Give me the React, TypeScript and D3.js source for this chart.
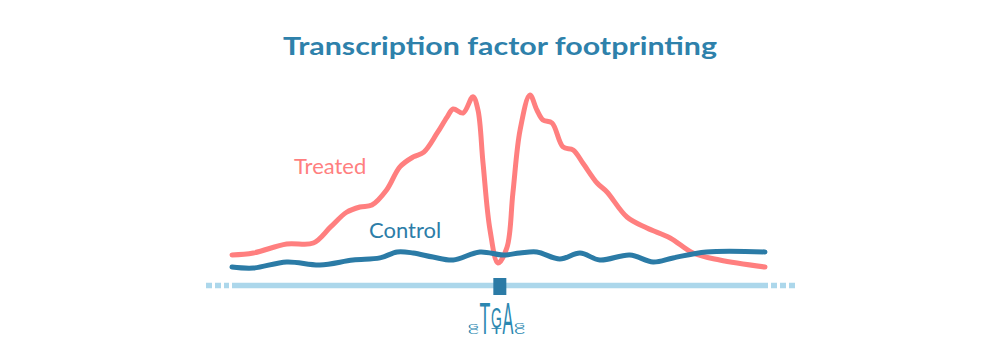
import React from 'react';
import * as d3 from 'd3';

// positions along the region (arbitrary units), signal in arbitrary units
const treatedPos = [0, 8, 20.5, 30.5, 37, 43, 48, 52.5, 58, 63, 68, 72, 77, 80.7, 83, 86.7, 90.4, 92.3, 94.2, 96.8, 99.8, 103.2, 105.4, 108.1, 111.8, 114.4, 116.7, 120.1, 124.2, 128, 131.7, 137, 140.7, 148.2, 155.7, 164.4, 173, 183, 200];
const treatedVal = [8.6, 9.7, 14.9, 15.4, 24.6, 33, 36, 37.1, 45.7, 58.9, 64.6, 67.4, 78.3, 87.4, 92, 89.7, 99, 91.4, 61, 23, 4, 13, 44, 80, 100, 91.4, 85.7, 84, 70.3, 68.6, 61, 49.7, 44.6, 30.3, 24, 18.3, 9.7, 5.7, 1.7];

const controlPos = [0, 8, 20.5, 33, 45.4, 55.5, 62, 68, 75.4, 83, 93, 101.7, 108, 114.4, 123, 130.6, 138, 149.3, 158, 165.5, 178, 200];
const controlVal = [1.7, 1.1, 4.6, 2.9, 5.7, 6.9, 10.3, 9.7, 7.4, 5.7, 10.3, 8.6, 9.7, 10.3, 6.3, 9.7, 5.7, 8.6, 4.6, 6.9, 10.3, 10.3];

// motif centre on the position axis
const motifPos = 100.5;

// sequence logo: letters per position, bottom to top, in bits
const logoPositions = ['1', '2', '3', '4', '5'];
const logoLetters = [['C', 'G'], ['T'], ['T', 'G'], ['A'], ['C', 'G']];
const logoBits = [[0.32, 0.32], [2], [0.38, 1.3], [2], [0.38, 0.32]];

const title = 'Transcription factor footprinting';

const W = 1000;
const H = 358;

const App = () => {
  const x = d3.scaleLinear().domain([0, 200]).range([232, 765]);
  const y = d3.scaleLinear().domain([0, 100]).range([270, 95]);

  const line = d3
    .line<[number, number]>()
    .x((d) => x(d[0]))
    .y((d) => y(d[1]))
    .curve(d3.curveCatmullRom.alpha(0.5));

  const treated = treatedPos.map((p, i) => [p, treatedVal[i]] as [number, number]);
  const control = controlPos.map((p, i) => [p, controlVal[i]] as [number, number]);

  const baseY = 285.5;

  // logo scales
  const lx = d3.scaleBand().domain(logoPositions).range([468, 525]).paddingInner(0.06);
  const ly = d3.scaleLinear().domain([0, 2]).range([334, 302]);
  const capH = 20 * 0.716;

  return (
    <svg width={W} height={H} style={{ position: 'absolute', left: 0, top: 0, background: '#fff' }}>
      <text x={500} y={55} textAnchor="middle" fontFamily="Lato" fontWeight="bold" fontSize={25}
        fill="#2e81ab" textLength={434} lengthAdjust="spacingAndGlyphs">{title}</text>

      {/* baseline with dotted ends */}
      <line x1={x(0) - 26} x2={x(0) - 3} y1={baseY} y2={baseY} stroke="#acd7eb" strokeWidth={5.5} strokeDasharray="6,3" />
      <line x1={x(200) + 6} x2={x(200) + 30} y1={baseY} y2={baseY} stroke="#acd7eb" strokeWidth={5.5} strokeDasharray="6,3" />
      <line x1={x(0)} x2={x(200) + 3} y1={baseY} y2={baseY} stroke="#acd7eb" strokeWidth={5.5} />
      <rect x={x(motifPos) - 6.5} y={278} width={13} height={17} fill="#2b7ba6" />

      <path d={line(treated) || ''} fill="none" stroke="#ff7f7f" strokeWidth={5} strokeLinecap="round" />
      <path d={line(control) || ''} fill="none" stroke="#2b7ba6" strokeWidth={5} strokeLinecap="round" />

      <text x={294} y={174} fontFamily="Lato" fontSize={22} fill="#ff7f7f">Treated</text>
      <text x={369} y={238} fontFamily="Lato" fontSize={22} fill="#2c7da8">Control</text>

      {/* sequence logo */}
      <g fill="#2b87b0" fontFamily="Liberation Sans" fontSize={20}>
        {logoPositions.map((p, i) => {
          let acc = 0;
          return logoLetters[i].map((l, j) => {
            const b = logoBits[i][j];
            const y0 = ly(acc);
            const h = ly(0) - ly(b);
            acc += b;
            return (
              <text key={p + j} x={0} y={0} textLength={lx.bandwidth()} lengthAdjust="spacingAndGlyphs"
                transform={`translate(${lx(p)},${y0}) scale(1,${h / capH})`}>{l}</text>
            );
          });
        })}
      </g>
    </svg>
  );
};

export default App;
